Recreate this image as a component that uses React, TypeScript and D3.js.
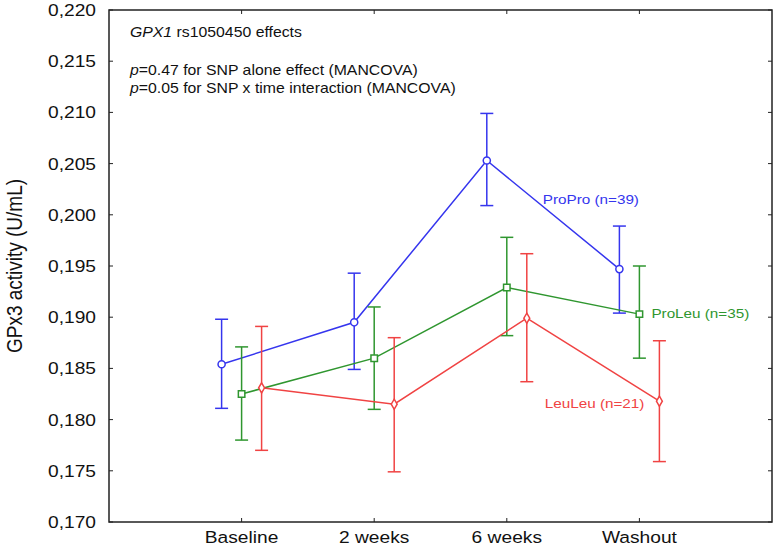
import * as d3 from "d3";

const categories = ["Baseline", "2 weeks", "6 weeks", "Washout"];
const yTicks = [0.17, 0.175, 0.18, 0.185, 0.19, 0.195, 0.2, 0.205, 0.21, 0.215, 0.22];

const proProMean = [0.1854, 0.1895, 0.2053, 0.1947];
const proProLow = [0.1811, 0.1849, 0.2009, 0.1904];
const proProHigh = [0.1898, 0.1943, 0.2099, 0.1989];

const proLeuMean = [0.1825, 0.186, 0.1929, 0.1903];
const proLeuLow = [0.178, 0.181, 0.1882, 0.186];
const proLeuHigh = [0.1871, 0.191, 0.1978, 0.195];

const leuLeuMean = [0.1831, 0.1815, 0.1899, 0.1818];
const leuLeuLow = [0.177, 0.1749, 0.1837, 0.1759];
const leuLeuHigh = [0.1891, 0.188, 0.1962, 0.1877];

const W = 774;
const H = 547;
const margin = { top: 10, right: 2, bottom: 25, left: 109 };
const font = "'Liberation Sans', Arial, sans-serif";
const stretch = 1.13;

// stretched text, the source image is wider than tall
function T({ x, y, anchor = "start", size, fill = "#111", children }: any) {
  return (
    <text
      transform={`translate(${x},${y}) scale(${stretch},1)`}
      textAnchor={anchor}
      fontSize={size}
      fontFamily={font}
      fill={fill}
    >
      {children}
    </text>
  );
}

export default function App() {
  const x = d3
    .scalePoint()
    .domain(categories)
    .range([margin.left, W - margin.right])
    .padding(1);
  const y = d3
    .scaleLinear()
    .domain([0.17, 0.22])
    .range([H - margin.bottom, margin.top]);

  const series = [
    { name: "ProPro", color: "#3535ee", mean: proProMean, low: proProLow, high: proProHigh, dx: -20, sym: d3.symbolCircle, size: 40, fill: "none" },
    { name: "ProLeu", color: "#2f962f", mean: proLeuMean, low: proLeuLow, high: proLeuHigh, dx: 0, sym: d3.symbolSquare, size: 42, fill: "none" },
    { name: "LeuLeu", color: "#f04343", mean: leuLeuMean, low: leuLeuLow, high: leuLeuHigh, dx: 20, sym: d3.symbolDiamond, size: 30, fill: "none" },
  ];

  const left = margin.left;
  const right = W - margin.right;
  const top = margin.top;
  const bottom = H - margin.bottom;
  const fmt = (v: number) => d3.format(".3f")(v).replace(".", ",");

  return (
    <svg width={W} height={H} style={{ position: "absolute", left: 0, top: 0, background: "#fff" }}>
      <rect x={0} y={0} width={W} height={H} fill="#fff" />

      {/* frame */}
      <rect x={left} y={top} width={right - left} height={bottom - top} fill="none" stroke="#222" strokeWidth={1.5} />

      {/* y ticks, left and right, inward */}
      {yTicks.map((t) => (
        <g key={t}>
          <line x1={left} x2={left + 4} y1={y(t)} y2={y(t)} stroke="#222" />
          <line x1={right - 4} x2={right} y1={y(t)} y2={y(t)} stroke="#222" />
          <T x={left - 13} y={y(t) + 6} anchor="end" size={17}>
            {fmt(t)}
          </T>
        </g>
      ))}

      {/* x ticks, top and bottom */}
      {categories.map((c) => (
        <g key={c}>
          <line x1={x(c)} x2={x(c)} y1={bottom} y2={bottom - 4} stroke="#222" />
          <line x1={x(c)} x2={x(c)} y1={top} y2={top + 4} stroke="#222" />
          <T x={x(c)} y={bottom + 21} anchor="middle" size={17}>
            {c}
          </T>
        </g>
      ))}

      <text
        transform={`translate(22,${(top + bottom) / 2}) rotate(-90) scale(1,${stretch})`}
        textAnchor="middle"
        fontSize={19}
        fontFamily={font}
        fill="#111"
      >
        GPx3 activity (U/mL)
      </text>

      {series.map((s) => {
        const px = (i: number) => (x(categories[i]) as number) + s.dx;
        const line = d3
          .line<number>()
          .x((_, i) => px(i))
          .y((d) => y(d));
        return (
          <g key={s.name} stroke={s.color} fill="none" strokeWidth={1.5}>
            <path d={line(s.mean) || ""} />
            {s.mean.map((m, i) => (
              <g key={i}>
                <line x1={px(i)} x2={px(i)} y1={y(s.low[i])} y2={y(s.high[i])} />
                <line x1={px(i) - 6.5} x2={px(i) + 6.5} y1={y(s.low[i])} y2={y(s.low[i])} />
                <line x1={px(i) - 6.5} x2={px(i) + 6.5} y1={y(s.high[i])} y2={y(s.high[i])} />
                <path
                  d={d3.symbol(s.sym, s.size)() || ""}
                  transform={`translate(${px(i)},${y(m)})`}
                  fill="#fff"
                />
              </g>
            ))}
          </g>
        );
      })}

      {/* series labels */}
      <T x={(x("6 weeks") as number) + 36} y={y(0.2015) + 5} size={13.5} fill="#3535ee">
        ProPro (n=39)
      </T>
      <T x={(x("Washout") as number) + 12} y={y(0.1904) + 5} size={13.5} fill="#2f962f">
        ProLeu (n=35)
      </T>
      <T x={(x("6 weeks") as number) + 38} y={y(0.1816) + 5} size={13.5} fill="#f04343">
        LeuLeu (n=21)
      </T>

      {/* annotations */}
      <T x={left + 21} y={37} size={14}>
        <tspan fontStyle="italic">GPX1</tspan> rs1050450 effects
      </T>
      <T x={left + 21} y={75} size={14}>
        <tspan fontStyle="italic">p</tspan>=0.47 for SNP alone effect (MANCOVA)
      </T>
      <T x={left + 21} y={93} size={14}>
        <tspan fontStyle="italic">p</tspan>=0.05 for SNP x time interaction (MANCOVA)
      </T>
    </svg>
  );
}
